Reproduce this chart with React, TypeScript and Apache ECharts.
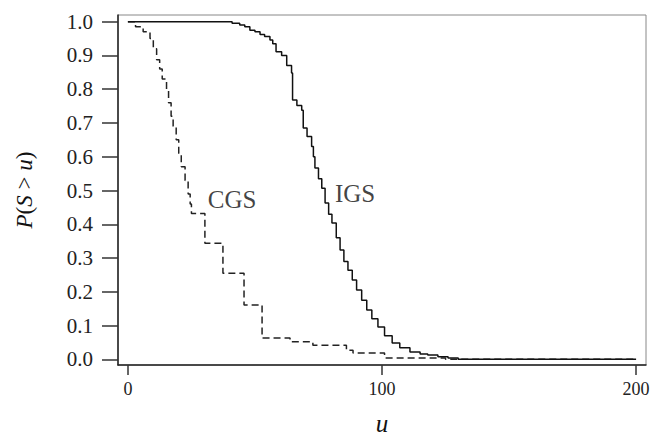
import React, { useEffect, useRef } from "react";
import * as echarts from "echarts";

// IGS survival curve (step points: u, P(S>u))
const igsU = [0, 38, 41, 44, 46, 48, 50, 52, 53.8, 55.9, 57, 58.3, 60.5, 62.5, 64.4, 64.8, 66.5, 68.4, 69, 70.5, 72.3, 73, 73.6, 75, 76.3, 77.6, 79, 80.3, 82, 83.5, 85, 86.6, 88.3, 90, 92, 94, 96, 98.4, 101, 104, 107, 111, 115, 118, 122, 126, 130, 200];
const igsP = [1.0, 1.0, 0.995, 0.99, 0.985, 0.975, 0.97, 0.962, 0.956, 0.946, 0.935, 0.911, 0.9, 0.87, 0.848, 0.768, 0.752, 0.738, 0.685, 0.66, 0.63, 0.6, 0.567, 0.535, 0.507, 0.463, 0.43, 0.404, 0.36, 0.324, 0.29, 0.264, 0.235, 0.205, 0.175, 0.146, 0.12, 0.096, 0.07, 0.048, 0.034, 0.022, 0.016, 0.013, 0.008, 0.004, 0.0, 0.0];

// CGS survival curve
const cgsU = [0, 3, 6, 8.7, 10, 11.3, 12.5, 13.5, 15.2, 16, 17, 17.8, 19, 20, 21, 22.5, 23.7, 24.5, 25, 30.3, 37.4, 45.7, 52.8, 63.8, 72.8, 86, 88.6, 101, 125, 200];
const cgsP = [1.0, 0.985, 0.97, 0.95, 0.92, 0.887, 0.86, 0.83, 0.8, 0.76, 0.72, 0.69, 0.65, 0.61, 0.57, 0.53, 0.49, 0.46, 0.432, 0.344, 0.255, 0.161, 0.063, 0.052, 0.042, 0.027, 0.019, 0.004, 0.0, 0.0];

const xTicks = [0, 100, 200];
const yTicks = [0, 0.1, 0.2, 0.3, 0.4, 0.5, 0.6, 0.7, 0.8, 0.9, 1.0];

const curveLabels = ["CGS", "IGS"];
const curveLabelU = [41, 89.4];
const curveLabelP = [0.472, 0.49];

const FONT = "'Liberation Serif', serif";

export default function App() {
  const ref = useRef<HTMLDivElement>(null);
  useEffect(() => {
    if (!ref.current) return;
    const chart = echarts.init(ref.current, null, { renderer: "svg" });
    chart.setOption({
      animation: false,
      backgroundColor: "#fff",
      grid: {
        left: 118,
        right: 4,
        top: 15,
        bottom: 71,
        show: true,
        borderColor: "#888",
        borderWidth: 1,
        containLabel: false,
        outerBoundsMode: "none",
      },
      xAxis: {
        type: "value",
        min: -3.9,
        max: 203.9,
        name: "u",
        nameLocation: "middle",
        nameGap: 46,
        nameTextStyle: { fontFamily: FONT, fontSize: 25, fontStyle: "italic", color: "#111" },
        axisLine: { show: true, onZero: false, lineStyle: { color: "#222", width: 1.5 } },
        axisTick: { show: true, length: 10, customValues: xTicks, lineStyle: { color: "#333", width: 1.5 } },
        axisLabel: {
          customValues: xTicks,
          margin: 15,
          fontFamily: FONT,
          fontSize: 18,
          color: "#222",
        },
        splitLine: { show: false },
      },
      yAxis: {
        type: "value",
        min: -0.0168,
        max: 1.0198,
        name: "{i|P}{n|(}{i|S}{n| > }{i|u}{n|)}",
        nameLocation: "middle",
        nameGap: 82,
        nameTextStyle: {
          rich: {
            i: { fontFamily: FONT, fontSize: 23, fontStyle: "italic", color: "#111" },
            n: { fontFamily: FONT, fontSize: 23, color: "#111" },
          },
        },
        axisLine: { show: true, onZero: false, lineStyle: { color: "#222", width: 1.5 } },
        axisTick: { show: true, length: 16, customValues: yTicks, lineStyle: { color: "#333", width: 1.5 } },
        axisLabel: {
          customValues: yTicks,
          margin: 25,
          fontFamily: FONT,
          fontSize: 21,
          color: "#222",
          formatter: (v: number) => v.toFixed(1),
        },
        splitLine: { show: false },
      },
      series: [
        {
          type: "line",
          name: "IGS",
          step: "end",
          showSymbol: false,
          symbol: "none",
          data: igsU.map((u, i) => [u, igsP[i]]),
          lineStyle: { color: "#111", width: 1.5 },
          z: 3,
        },
        {
          type: "line",
          name: "CGS",
          step: "end",
          showSymbol: false,
          symbol: "none",
          data: cgsU.map((u, i) => [u, cgsP[i]]),
          lineStyle: { color: "#222", width: 1.5, type: [7, 4] },
          z: 2,
        },
        {
          type: "scatter",
          symbolSize: 1,
          itemStyle: { color: "rgba(0,0,0,0)" },
          data: curveLabels.map((n, i) => ({ name: n, value: [curveLabelU[i], curveLabelP[i]] })),
          label: {
            show: true,
            position: "inside",
            formatter: (p: any) => p.name,
            fontFamily: FONT,
            fontSize: 25,
            color: "#111",
          },
          z: 4,
        },
      ],
    });
    return () => chart.dispose();
  }, []);
  return <div ref={ref} style={{ width: 650, height: 436, position: "absolute", left: 0, top: 0 }} />;
}
